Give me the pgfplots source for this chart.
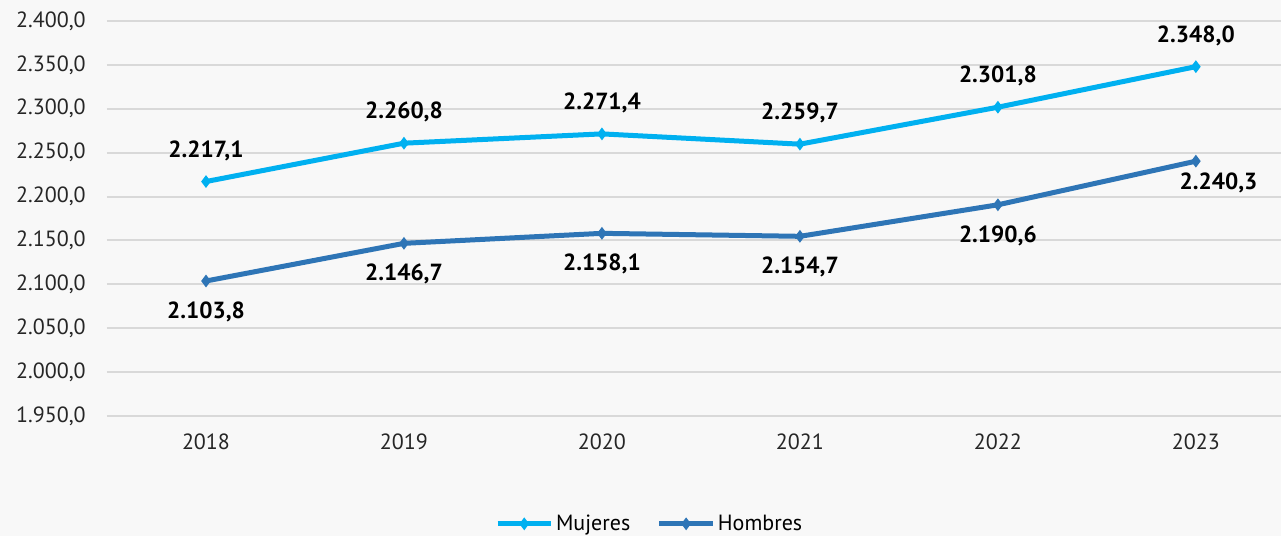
\documentclass[border=0pt]{standalone}
\usepackage{fontspec}
\setmainfont{PT Sans}
\usepackage{pgfplots}
\usepackage{pgfplotstable}
\pgfplotsset{compat=1.18}
\definecolor{muj}{HTML}{00B0F0}
\definecolor{hom}{HTML}{2E75B6}
\definecolor{bg}{HTML}{F8F8F8}
\definecolor{gridc}{HTML}{D9D9D9}

\pgfplotstableread{
x y dx dy
0 2217.1 0 23.25
1 2260.8 0 23.25
2 2271.4 0 23.25
3 2259.7 0 23.25
4 2301.8 0 23.25
5 2348.0 0 23.25
}\mujeres
\pgfplotstableread{
x y dx dy
0 2103.8 0 -23.25
1 2146.7 0 -23.25
2 2158.1 0 -23.25
3 2154.7 0 -23.25
4 2190.6 0 -23.25
5 2240.3 17 -16.5
}\hombres

\begin{document}
\begin{tikzpicture}[x=1pt,y=1pt]
\fill[bg] (-80.25,-90) rectangle (880.5,312);
\useasboundingbox (-80.25,-90) rectangle (880.5,312);
\begin{axis}[
  at={(0,0)}, anchor=south west,
  scale only axis, width=880.5pt, height=296.25pt,
  xmin=-0.5, xmax=5.43, ymin=1950, ymax=2400,
  clip=false,
  axis line style={draw=none},
  major tick length=0pt,
  ytick={1950,2000,...,2400},
  xtick={0,...,5},
  xticklabels={2018,2019,2020,2021,2022,2023},
  ymajorgrids, grid style={gridc, line width=1.5pt},
  /pgf/number format/.cd, fixed, fixed zerofill, precision=1, use comma, assume math mode=true,
  /pgfplots/.cd,
  tick label style={font=\fontsize{16.5}{18}\selectfont, color=black!85},
  yticklabel style={anchor=east, inner sep=0pt, xshift=-15.75pt},
  xticklabel style={anchor=base, inner sep=0pt, yshift=-25pt},
  legend style={at={(0.4625,-0.273)}, anchor=center, draw=none, fill=none,
    legend columns=2, font=\fontsize{16.5}{18}\selectfont,
    /tikz/every even column/.append style={column sep=18pt}},
  legend image code/.code={
    \draw[#1, mark repeat=2, mark phase=2] plot coordinates {(0pt,0pt) (20pt,0pt) (40pt,0pt)};
  },
  nodes near coords,
  visualization depends on={\thisrow{dx}\as\dx},
  visualization depends on={\thisrow{dy}\as\dy},
  every node near coord/.append style={anchor=center, xshift=\dx pt, yshift=\dy pt,
    font=\fontsize{17.5}{19}\selectfont\bfseries, text=black},
]
\addplot[muj, line width=3.75pt, mark=diamond*, mark size=4pt, mark options={solid, line width=1pt}] table[x=x, y=y] {\mujeres};
\addlegendentry{Mujeres}
\addplot[hom, line width=3.75pt, mark=diamond*, mark size=4pt, mark options={solid, line width=1pt}] table[x=x, y=y] {\hombres};
\addlegendentry{Hombres}
\end{axis}
\end{tikzpicture}
\end{document}
